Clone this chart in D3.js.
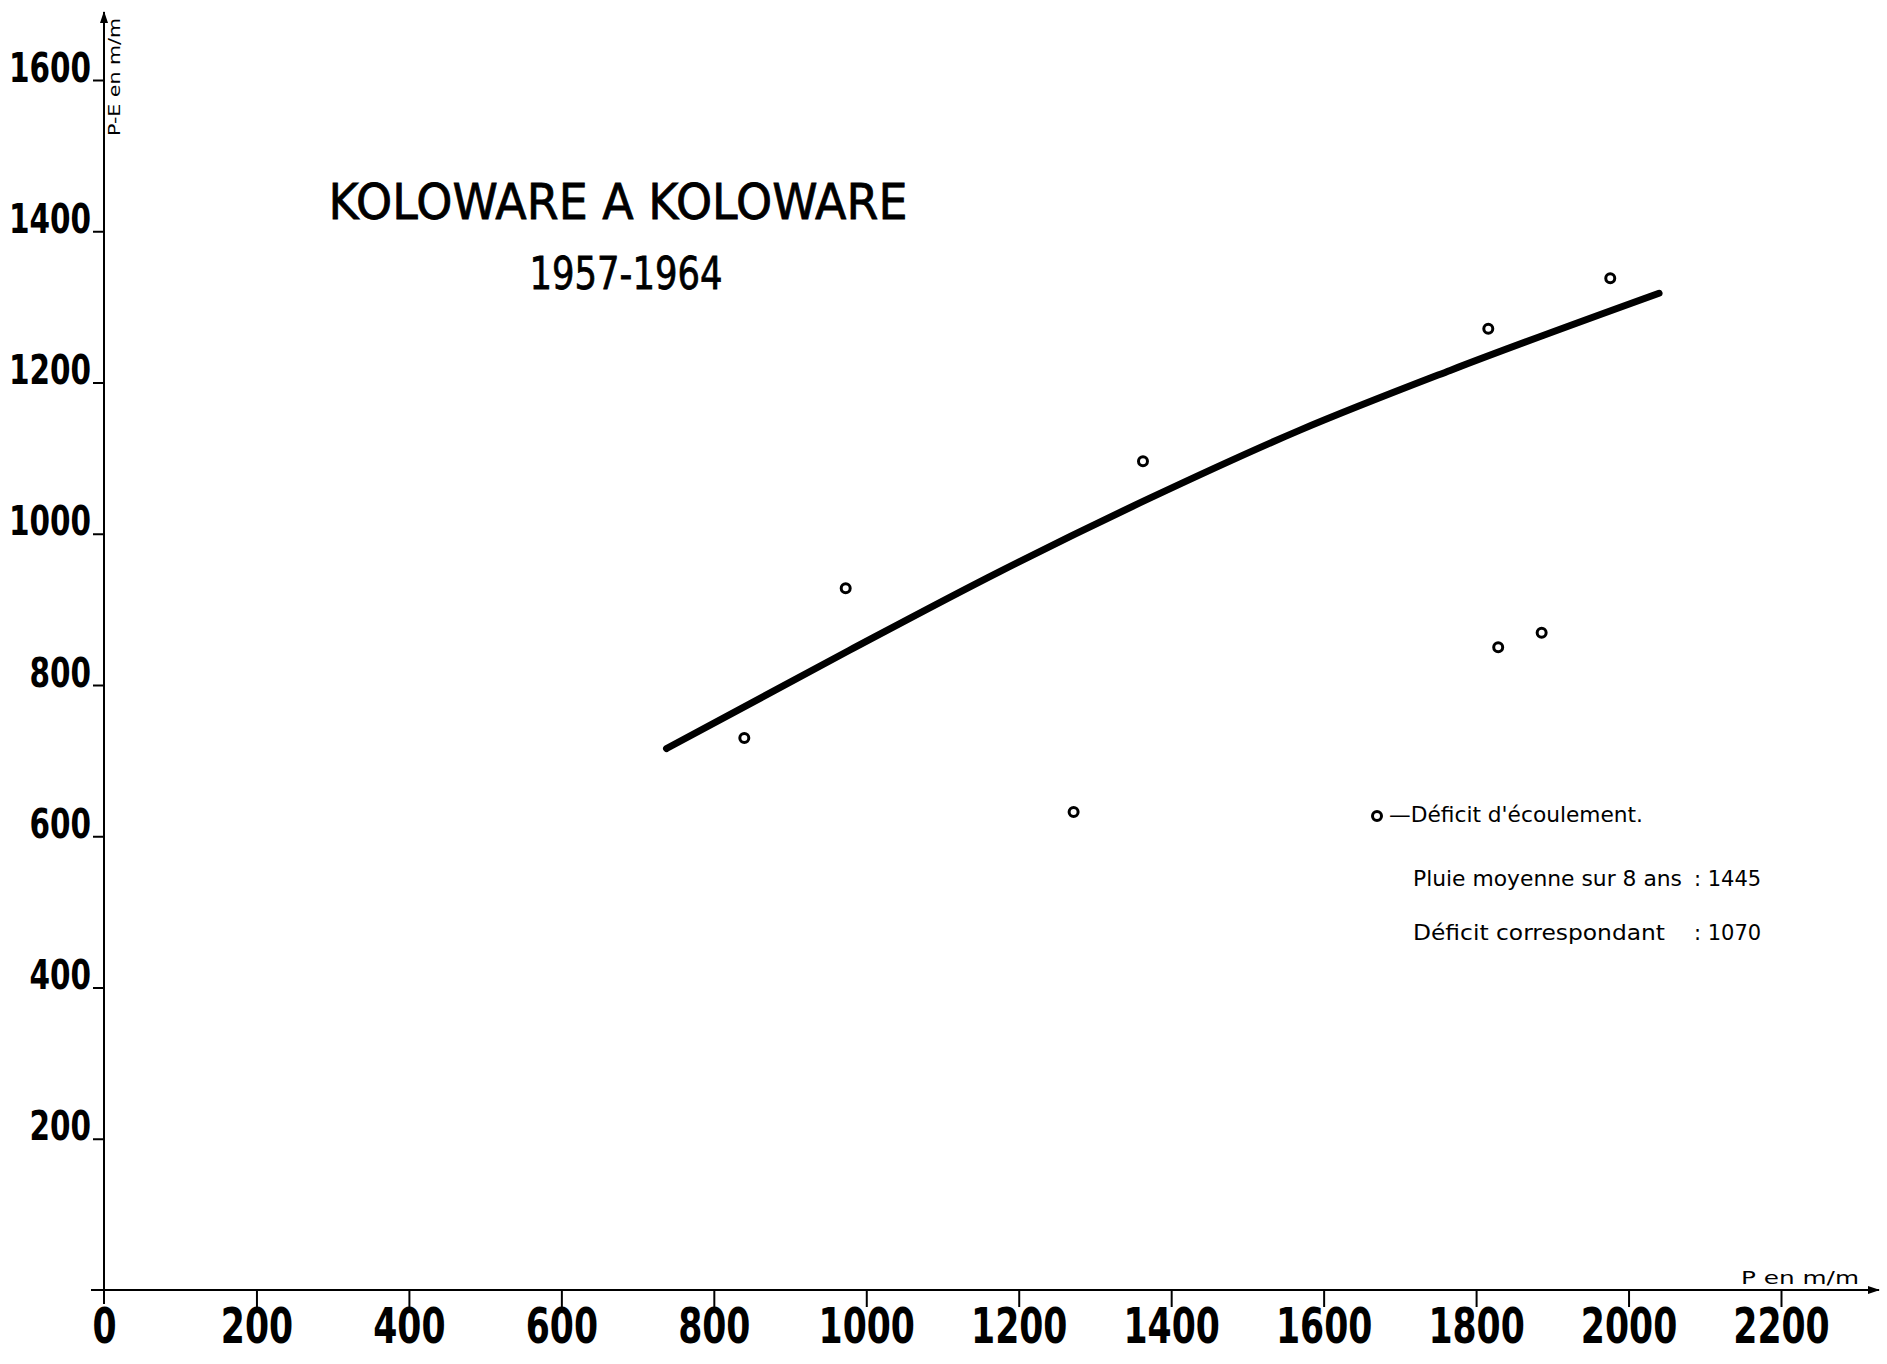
<!DOCTYPE html>
<html>
<head>
<meta charset="utf-8">
<script src="https://cdn.jsdelivr.net/npm/d3@7"></script>
<style>
  body { margin: 0; background: #fff; }
  .tick-label { font-family: "Liberation Sans Narrow", "DejaVu Sans Condensed", sans-serif; font-weight: bold; }
  .hand { font-family: "DejaVu Sans", sans-serif; }
</style>
</head>
<body>
<div id="chart"></div>
<script>
// Koloware a Koloware 1957-1964 : déficit d'écoulement (P-E) vs pluie (P)
const rainfall = [840, 973, 1272, 1363, 1816, 1829, 1886, 1976];
const deficit = [730, 928, 632, 1096, 1271, 850, 869, 1338];

// hand-drawn fitted curve
const curveP = [738, 978, 1175, 1372, 1569, 1766, 2040];
const curveD = [716, 846, 950, 1047, 1137, 1216, 1318];

const xTicks = [0, 200, 400, 600, 800, 1000, 1200, 1400, 1600, 1800, 2000, 2200];
const yTicks = [200, 400, 600, 800, 1000, 1200, 1400, 1600];

const titleLines = ["KOLOWARE  A  KOLOWARE", "1957-1964"];
const legendLines = ["Pluie moyenne sur 8 ans", "Déficit correspondant"];
const legendValues = [": 1445", ": 1070"];

function chart() {
    const width = 1887,
        height = 1364;

    const svg = d3.select("#chart").append("svg")
        .attr("width", width)
        .attr("height", height)
        .style("background", "#fff");

    const x = d3.scaleLinear().domain([0, 2200]).range([104, 1781]);
    const y = d3.scaleLinear().domain([0, 1600]).range([1290, 80]);

    // axes lines with arrows
    svg.append("defs").append("marker")
        .attr("id", "arrow")
        .attr("viewBox", "0 -5 12 10")
        .attr("refX", 11)
        .attr("refY", 0)
        .attr("markerWidth", 12)
        .attr("markerHeight", 10)
        .attr("markerUnits", "userSpaceOnUse")
        .attr("orient", "auto")
        .append("path")
        .attr("d", "M0,-4L12,0L0,4Z")
        .attr("fill", "#000");

    svg.append("line")
        .attr("x1", x(0)).attr("x2", x(0))
        .attr("y1", y(0) + 14).attr("y2", 12)
        .attr("stroke", "#000").attr("stroke-width", 2)
        .attr("marker-end", "url(#arrow)");

    svg.append("line")
        .attr("x1", x(0) - 13).attr("x2", 1879)
        .attr("y1", y(0)).attr("y2", y(0))
        .attr("stroke", "#000").attr("stroke-width", 2)
        .attr("marker-end", "url(#arrow)");

    const xAxis = svg.append("g")
        .attr("transform", `translate(0,${y(0)})`)
        .call(d3.axisBottom(x).tickValues(xTicks).tickSize(17).tickFormat(d3.format("d")));
    xAxis.select(".domain").remove();
    xAxis.selectAll(".tick line").attr("stroke-width", 2).filter(d => d === 0).remove();
    xAxis.selectAll("text")
        .attr("class", "tick-label")
        .attr("y", 0)
        .attr("dy", 0)
        .attr("transform", "translate(0,53) scale(0.77,1)")
        .style("font-size", "50px")
        .attr("fill", "#000");

    const yAxis = svg.append("g")
        .attr("transform", `translate(${x(0)},0)`)
        .call(d3.axisLeft(y).tickValues(yTicks).tickSize(11).tickPadding(3).tickFormat(d3.format("d")));
    yAxis.select(".domain").remove();
    yAxis.selectAll(".tick line").attr("stroke-width", 2);
    yAxis.selectAll("text")
        .attr("class", "tick-label")
        .attr("x", 0)
        .attr("dy", "0.03em")
        .attr("transform", "translate(-13,0) scale(0.8,1)")
        .style("font-size", "41px")
        .attr("fill", "#000");

    // axis titles
    svg.append("text")
        .attr("class", "hand")
        .attr("transform", `translate(120,77) rotate(-90)`)
        .attr("text-anchor", "middle")
        .attr("textLength", 118)
        .attr("lengthAdjust", "spacingAndGlyphs")
        .style("font-size", "16px")
        .text("P-E en m/m");

    svg.append("text")
        .attr("class", "hand")
        .attr("x", 1741)
        .attr("y", 1284)
        .attr("textLength", 118)
        .attr("lengthAdjust", "spacingAndGlyphs")
        .style("font-size", "17px")
        .text("P en  m/m");

    // title
    svg.append("text")
        .attr("x", 618).attr("y", 219)
        .attr("text-anchor", "middle")
        .attr("textLength", 579)
        .attr("lengthAdjust", "spacingAndGlyphs")
        .style("font", "49px 'DejaVu Sans', sans-serif")
        .attr("stroke", "#000").attr("stroke-width", 0.8)
        .text(titleLines[0]);

    svg.append("text")
        .attr("x", 626).attr("y", 289)
        .attr("text-anchor", "middle")
        .attr("textLength", 193)
        .attr("lengthAdjust", "spacingAndGlyphs")
        .style("font", "44px 'DejaVu Sans', sans-serif")
        .attr("stroke", "#000").attr("stroke-width", 0.8)
        .text(titleLines[1]);

    // curve
    const line = d3.line()
        .x(d => x(d[0]))
        .y(d => y(d[1]))
        .curve(d3.curveMonotoneX);

    svg.append("path")
        .datum(curveP.map((p, i) => [p, curveD[i]]))
        .attr("d", line)
        .attr("fill", "none")
        .attr("stroke", "#000")
        .attr("stroke-width", 7)
        .attr("stroke-linecap", "round");

    // points
    svg.append("g")
        .selectAll("circle")
        .data(rainfall.map((p, i) => [p, deficit[i]]))
        .join("circle")
        .attr("cx", d => x(d[0]))
        .attr("cy", d => y(d[1]))
        .attr("r", 4.5)
        .attr("fill", "none")
        .attr("stroke", "#000")
        .attr("stroke-width", 3);

    // legend
    const legend = svg.append("g").attr("class", "hand").style("font-size", "21px");
    legend.append("circle")
        .attr("cx", 1377).attr("cy", 816).attr("r", 4.5)
        .attr("fill", "none").attr("stroke", "#000").attr("stroke-width", 3);
    legend.append("text")
        .attr("x", 1389).attr("y", 822)
        .attr("textLength", 254)
        .attr("lengthAdjust", "spacingAndGlyphs")
        .text("—Déficit  d'écoulement.");

    const rowY = [886, 940];
    const rowEnd = [1682, 1665];
    legendLines.forEach((t, i) => {
        legend.append("text")
            .attr("x", 1413).attr("y", rowY[i])
            .attr("textLength", rowEnd[i] - 1413)
            .attr("lengthAdjust", "spacingAndGlyphs")
            .text(t);
        legend.append("text")
            .attr("x", 1694).attr("y", rowY[i])
            .text(legendValues[i]);
    });
}

window.onload = function() {
    chart();
};
</script>
</body>
</html>
